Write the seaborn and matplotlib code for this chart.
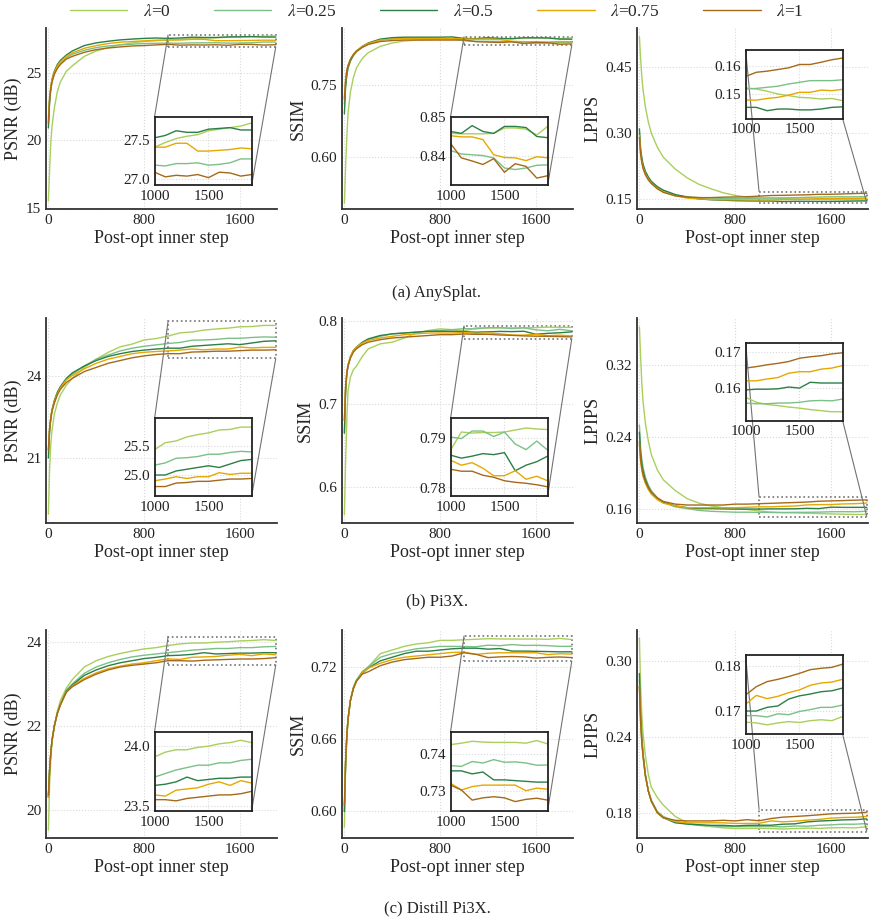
import matplotlib
matplotlib.use("Agg")
import matplotlib.pyplot as plt
import seaborn as sns
import pandas as pd
from matplotlib.ticker import MultipleLocator
from mpl_toolkits.axes_grid1.inset_locator import mark_inset

steps = [0, 10, 20, 30, 50, 75, 100, 150, 200, 300, 400, 500, 600, 700, 800, 900,
         1000, 1100, 1200, 1300, 1400, 1500, 1600, 1700, 1800, 1900]
lambdas = ["0", "0.25", "0.5", "0.75", "1"]
colors = ["#a9cf5c", "#7cc087", "#2b7f47", "#e6a800", "#a5691a"]

# rows: lambda = 0, 0.25, 0.5, 0.75, 1
anysplat_psnr = [
    [15.5, 17.8, 19.8, 21.0, 22.4, 23.6, 24.3, 25.1, 25.5, 26.2, 26.6, 26.85, 27.05, 27.2, 27.3, 27.36, 27.41, 27.47, 27.52, 27.55, 27.57, 27.62, 27.64, 27.66, 27.68, 27.72],
    [21.2, 22.8, 23.7, 24.3, 24.9, 25.4, 25.7, 26.1, 26.35, 26.65, 26.85, 26.97, 27.05, 27.1, 27.15, 27.17, 27.18, 27.17, 27.2, 27.2, 27.21, 27.18, 27.19, 27.21, 27.26, 27.26],
    [20.9, 22.9, 23.9, 24.5, 25.1, 25.6, 25.9, 26.3, 26.6, 27.0, 27.2, 27.32, 27.42, 27.48, 27.53, 27.56, 27.53, 27.56, 27.62, 27.60, 27.60, 27.64, 27.65, 27.66, 27.63, 27.63],
    [21.6, 23.2, 24.0, 24.5, 25.0, 25.5, 25.8, 26.2, 26.45, 26.8, 27.0, 27.15, 27.25, 27.3, 27.35, 27.4, 27.41, 27.41, 27.46, 27.46, 27.36, 27.36, 27.37, 27.38, 27.40, 27.39],
    [21.3, 23.0, 23.8, 24.3, 24.9, 25.3, 25.6, 26.0, 26.2, 26.5, 26.7, 26.82, 26.9, 26.97, 27.0, 27.05, 27.09, 27.03, 27.05, 27.04, 27.06, 27.02, 27.09, 27.08, 27.04, 27.06],
]
anysplat_ssim = [
    [0.505, 0.58, 0.64, 0.69, 0.735, 0.765, 0.785, 0.805, 0.817, 0.83, 0.837, 0.841, 0.843, 0.844, 0.845, 0.846, 0.8459, 0.8458, 0.8458, 0.8458, 0.8459, 0.8473, 0.8473, 0.847, 0.8455, 0.8477],
    [0.71, 0.75, 0.77, 0.785, 0.80, 0.81, 0.818, 0.828, 0.835, 0.843, 0.846, 0.847, 0.847, 0.847, 0.846, 0.845, 0.8415, 0.8406, 0.8404, 0.8402, 0.8396, 0.837, 0.8366, 0.837, 0.8377, 0.8378],
    [0.69, 0.745, 0.77, 0.785, 0.80, 0.812, 0.82, 0.83, 0.837, 0.845, 0.848, 0.849, 0.849, 0.849, 0.849, 0.8495, 0.8464, 0.8459, 0.8479, 0.8464, 0.8459, 0.8477, 0.8477, 0.8474, 0.8451, 0.8448],
    [0.725, 0.76, 0.78, 0.79, 0.803, 0.813, 0.82, 0.83, 0.836, 0.843, 0.845, 0.846, 0.846, 0.846, 0.846, 0.846, 0.8453, 0.845, 0.845, 0.8443, 0.8404, 0.8397, 0.8396, 0.8389, 0.8399, 0.8396],
    [0.72, 0.76, 0.78, 0.79, 0.803, 0.813, 0.82, 0.828, 0.834, 0.84, 0.842, 0.843, 0.843, 0.843, 0.843, 0.843, 0.8433, 0.8396, 0.8388, 0.8379, 0.8394, 0.8359, 0.8381, 0.8374, 0.8344, 0.835],
]
anysplat_lpips = [
    [0.52, 0.47, 0.43, 0.40, 0.36, 0.325, 0.30, 0.268, 0.245, 0.218, 0.198, 0.183, 0.173, 0.164, 0.158, 0.154, 0.1522, 0.1518, 0.151, 0.15, 0.1494, 0.1488, 0.1486, 0.1482, 0.1484, 0.1476],
    [0.30, 0.26, 0.24, 0.225, 0.21, 0.197, 0.188, 0.176, 0.168, 0.159, 0.155, 0.153, 0.152, 0.151, 0.151, 0.1512, 0.1518, 0.152, 0.1524, 0.1528, 0.1536, 0.1542, 0.1548, 0.1548, 0.1548, 0.1551],
    [0.31, 0.265, 0.245, 0.23, 0.213, 0.2, 0.19, 0.178, 0.17, 0.16, 0.154, 0.15, 0.148, 0.147, 0.146, 0.1455, 0.1452, 0.1452, 0.144, 0.1446, 0.1446, 0.1443, 0.1443, 0.1446, 0.1452, 0.1454],
    [0.295, 0.255, 0.235, 0.222, 0.207, 0.195, 0.186, 0.174, 0.166, 0.157, 0.152, 0.15, 0.149, 0.148, 0.148, 0.1478, 0.1478, 0.1478, 0.1484, 0.1488, 0.1496, 0.1506, 0.1506, 0.1514, 0.1512, 0.1517],
    [0.29, 0.252, 0.233, 0.22, 0.205, 0.193, 0.185, 0.173, 0.165, 0.157, 0.154, 0.153, 0.153, 0.154, 0.1545, 0.155, 0.1563, 0.1578, 0.1582, 0.1588, 0.1594, 0.1606, 0.1606, 0.1614, 0.1623, 0.1629],
]
pi3x_psnr = [
    [18.95, 20.6, 21.5, 22.0, 22.6, 23.0, 23.3, 23.65, 23.9, 24.3, 24.6, 24.85, 25.05, 25.15, 25.3, 25.35, 25.44, 25.56, 25.59, 25.66, 25.70, 25.73, 25.78, 25.79, 25.83, 25.83],
    [21.2, 22.0, 22.4, 22.7, 23.05, 23.35, 23.55, 23.85, 24.05, 24.35, 24.6, 24.75, 24.9, 25.0, 25.07, 25.12, 25.17, 25.21, 25.29, 25.30, 25.32, 25.36, 25.36, 25.39, 25.41, 25.40],
    [21.0, 22.0, 22.45, 22.75, 23.1, 23.4, 23.6, 23.9, 24.1, 24.35, 24.55, 24.7, 24.8, 24.88, 24.93, 24.97, 25.0, 25.0, 25.07, 25.10, 25.13, 25.16, 25.13, 25.19, 25.25, 25.27],
    [21.3, 22.1, 22.5, 22.75, 23.05, 23.35, 23.55, 23.85, 24.0, 24.25, 24.45, 24.6, 24.7, 24.8, 24.85, 24.88, 24.90, 24.93, 24.97, 24.94, 24.97, 24.97, 25.04, 25.01, 25.03, 25.03],
    [21.3, 22.05, 22.45, 22.7, 23.0, 23.3, 23.5, 23.75, 23.9, 24.15, 24.3, 24.45, 24.55, 24.65, 24.72, 24.77, 24.80, 24.80, 24.86, 24.87, 24.89, 24.89, 24.91, 24.93, 24.93, 24.94],
]
pi3x_ssim = [
    [0.567, 0.63, 0.68, 0.715, 0.732, 0.741, 0.745, 0.757, 0.766, 0.772, 0.774, 0.779, 0.785, 0.788, 0.79, 0.789, 0.7876, 0.7912, 0.791, 0.7911, 0.7911, 0.7912, 0.7916, 0.792, 0.7918, 0.7917],
    [0.665, 0.715, 0.735, 0.745, 0.755, 0.763, 0.767, 0.773, 0.777, 0.781, 0.784, 0.785, 0.786, 0.787, 0.788, 0.789, 0.7902, 0.7899, 0.7914, 0.7914, 0.7903, 0.7912, 0.7888, 0.7877, 0.7894, 0.7876],
    [0.665, 0.715, 0.735, 0.745, 0.756, 0.764, 0.768, 0.774, 0.778, 0.782, 0.784, 0.785, 0.786, 0.787, 0.787, 0.787, 0.7866, 0.786, 0.7864, 0.7869, 0.7867, 0.7871, 0.7835, 0.7846, 0.7853, 0.7864],
    [0.68, 0.72, 0.738, 0.747, 0.757, 0.764, 0.768, 0.773, 0.776, 0.779, 0.781, 0.783, 0.784, 0.785, 0.785, 0.785, 0.7856, 0.7846, 0.7851, 0.784, 0.7825, 0.7825, 0.7835, 0.7818, 0.7824, 0.7815],
    [0.68, 0.72, 0.737, 0.746, 0.755, 0.762, 0.766, 0.771, 0.774, 0.777, 0.779, 0.78, 0.781, 0.782, 0.783, 0.783, 0.7838, 0.7834, 0.7834, 0.7826, 0.7822, 0.7815, 0.7812, 0.781, 0.7807, 0.7803],
]
pi3x_lpips = [
    [0.362, 0.33, 0.30, 0.28, 0.255, 0.235, 0.22, 0.203, 0.192, 0.18, 0.171, 0.166, 0.163, 0.161, 0.16, 0.159, 0.1575, 0.1561, 0.1555, 0.1552, 0.1548, 0.1545, 0.1541, 0.1538, 0.1535, 0.1535],
    [0.253, 0.228, 0.215, 0.206, 0.195, 0.186, 0.18, 0.172, 0.167, 0.162, 0.16, 0.158, 0.157, 0.1565, 0.156, 0.156, 0.1559, 0.1557, 0.1557, 0.1559, 0.1559, 0.1561, 0.1565, 0.1566, 0.1565, 0.157],
    [0.245, 0.222, 0.21, 0.202, 0.192, 0.184, 0.178, 0.171, 0.167, 0.163, 0.161, 0.16, 0.16, 0.1597, 0.1595, 0.1595, 0.1595, 0.1597, 0.1597, 0.1598, 0.1603, 0.16, 0.1616, 0.1614, 0.1614, 0.1614],
    [0.232, 0.213, 0.203, 0.196, 0.188, 0.181, 0.176, 0.17, 0.166, 0.163, 0.161, 0.161, 0.161, 0.161, 0.161, 0.1615, 0.162, 0.162, 0.1625, 0.1629, 0.1641, 0.1645, 0.1645, 0.1652, 0.1655, 0.1662],
    [0.235, 0.215, 0.205, 0.198, 0.19, 0.183, 0.178, 0.172, 0.168, 0.165, 0.164, 0.164, 0.164, 0.164, 0.165, 0.165, 0.1655, 0.1659, 0.1664, 0.1668, 0.1673, 0.1682, 0.1686, 0.1689, 0.1694, 0.1697],
]
distill_psnr = [
    [19.52, 20.6, 21.2, 21.6, 22.0, 22.35, 22.6, 22.9, 23.1, 23.4, 23.55, 23.65, 23.72, 23.78, 23.83, 23.86, 23.91, 23.95, 23.97, 23.97, 23.99, 24.0, 24.02, 24.03, 24.05, 24.03],
    [20.3, 20.95, 21.35, 21.65, 22.0, 22.3, 22.5, 22.85, 23.0, 23.25, 23.4, 23.5, 23.58, 23.64, 23.68, 23.71, 23.74, 23.77, 23.80, 23.82, 23.84, 23.84, 23.86, 23.86, 23.88, 23.89],
    [20.3, 20.95, 21.35, 21.65, 22.0, 22.3, 22.5, 22.82, 22.97, 23.2, 23.33, 23.43, 23.5, 23.55, 23.6, 23.63, 23.67, 23.68, 23.70, 23.74, 23.71, 23.72, 23.73, 23.73, 23.74, 23.74],
    [20.3, 20.95, 21.35, 21.65, 22.0, 22.3, 22.5, 22.8, 22.95, 23.13, 23.26, 23.36, 23.42, 23.47, 23.5, 23.55, 23.59, 23.58, 23.63, 23.64, 23.65, 23.68, 23.70, 23.67, 23.71, 23.69],
    [20.35, 20.95, 21.35, 21.65, 22.0, 22.3, 22.5, 22.8, 22.93, 23.1, 23.23, 23.33, 23.4, 23.44, 23.47, 23.5, 23.55, 23.55, 23.54, 23.56, 23.57, 23.58, 23.59, 23.59, 23.60, 23.62],
]
distill_ssim = [
    [0.587, 0.635, 0.66, 0.675, 0.692, 0.703, 0.709, 0.716, 0.72, 0.731, 0.734, 0.737, 0.739, 0.74, 0.742, 0.742, 0.7425, 0.7429, 0.7434, 0.7432, 0.7431, 0.7431, 0.7431, 0.7429, 0.7436, 0.7427],
    [0.60, 0.64, 0.662, 0.676, 0.692, 0.703, 0.709, 0.716, 0.72, 0.728, 0.731, 0.733, 0.735, 0.736, 0.737, 0.737, 0.7369, 0.7367, 0.738, 0.7376, 0.7385, 0.7378, 0.7379, 0.7376, 0.737, 0.7371],
    [0.60, 0.64, 0.662, 0.676, 0.692, 0.702, 0.708, 0.715, 0.719, 0.725, 0.728, 0.731, 0.733, 0.733, 0.734, 0.735, 0.7355, 0.7355, 0.7347, 0.7352, 0.7331, 0.7331, 0.7329, 0.7327, 0.7325, 0.7325],
    [0.605, 0.642, 0.663, 0.677, 0.692, 0.702, 0.708, 0.715, 0.719, 0.723, 0.726, 0.728, 0.729, 0.73, 0.731, 0.732, 0.7322, 0.7304, 0.7313, 0.7317, 0.7317, 0.7317, 0.7317, 0.7302, 0.7309, 0.7306],
    [0.605, 0.642, 0.663, 0.677, 0.692, 0.702, 0.708, 0.714, 0.716, 0.721, 0.724, 0.726, 0.727, 0.728, 0.728, 0.729, 0.7317, 0.7304, 0.7277, 0.7283, 0.7286, 0.7283, 0.7273, 0.7279, 0.7282, 0.7277],
]
distill_lpips = [
    [0.318, 0.28, 0.258, 0.243, 0.225, 0.21, 0.2, 0.192, 0.186, 0.177, 0.172, 0.17, 0.169, 0.168, 0.1675, 0.1675, 0.1677, 0.1675, 0.1671, 0.1675, 0.1678, 0.1676, 0.168, 0.1682, 0.168, 0.1689],
    [0.285, 0.255, 0.238, 0.226, 0.21, 0.197, 0.19, 0.181, 0.177, 0.173, 0.171, 0.17, 0.1695, 0.169, 0.169, 0.169, 0.1691, 0.1691, 0.1688, 0.1695, 0.1693, 0.17, 0.1704, 0.1709, 0.1709, 0.1714],
    [0.29, 0.258, 0.24, 0.227, 0.21, 0.197, 0.189, 0.18, 0.176, 0.172, 0.171, 0.1705, 0.17, 0.17, 0.1695, 0.17, 0.1701, 0.1701, 0.1709, 0.1712, 0.1727, 0.1734, 0.1738, 0.1743, 0.1745, 0.1751],
    [0.28, 0.252, 0.236, 0.225, 0.209, 0.197, 0.189, 0.18, 0.176, 0.173, 0.172, 0.172, 0.172, 0.172, 0.1715, 0.1715, 0.1716, 0.1735, 0.1728, 0.1733, 0.1741, 0.1747, 0.1757, 0.1762, 0.1764, 0.177],
    [0.28, 0.252, 0.236, 0.225, 0.209, 0.197, 0.189, 0.18, 0.176, 0.174, 0.1735, 0.1735, 0.1735, 0.174, 0.1735, 0.1745, 0.1736, 0.1754, 0.1765, 0.177, 0.1776, 0.1783, 0.1791, 0.1794, 0.1796, 0.1803],
]

captions = ["(a) AnySplat.", "(b) Pi3X.", "(c) Distill Pi3X."]
ylabels = ["PSNR (dB)", "SSIM", "LPIPS"]

# (data, main ylim, main yticks, tick fmt, inset ylim, inset yticks, inset fmt)
panels = [
    [(anysplat_psnr, (14.9, 28.3), [15, 20, 25], "{:.0f}", (26.92, 27.8), [27.0, 27.5], "{:.1f}"),
     (anysplat_ssim, (0.493, 0.868), [0.60, 0.75], "{:.2f}", (0.8325, 0.8502), [0.84, 0.85], "{:.2f}"),
     (anysplat_lpips, (0.127, 0.54), [0.15, 0.30, 0.45], "{:.2f}", (0.1412, 0.1659), [0.15, 0.16], "{:.2f}")],
    [(pi3x_psnr, (18.63, 26.1), [21, 24], "{:.0f}", (24.63, 25.98), [25.0, 25.5], "{:.1f}"),
     (pi3x_ssim, (0.557, 0.803), [0.6, 0.7, 0.8], "{:.1f}", (0.7784, 0.7939), [0.78, 0.79], "{:.2f}"),
     (pi3x_lpips, (0.144, 0.372), [0.16, 0.24, 0.32], "{:.2f}", (0.1511, 0.1725), [0.16, 0.17], "{:.2f}")],
    [(distill_psnr, (19.33, 24.28), [20, 22, 24], "{:.0f}", (23.455, 24.12), [23.5, 24.0], "{:.1f}"),
     (distill_ssim, (0.578, 0.7506), [0.60, 0.66, 0.72], "{:.2f}", (0.7248, 0.7459), [0.73, 0.74], "{:.2f}"),
     (distill_lpips, (0.160, 0.3244), [0.18, 0.24, 0.30], "{:.2f}", (0.1651, 0.1823), [0.17, 0.18], "{:.2f}")],
]

# axes boxes in pixels (top, bottom) per row; left per column
row_px = [(28, 209), (318, 523), (630, 838)]
col_px = [46, 342, 637]
ax_w_px = 231
caption_y_px = [293, 601, 908]
W, H = 875, 923


def long_frame(rows):
    recs = []
    for lam, vals in zip(lambdas, rows):
        for s, v in zip(steps, vals):
            recs.append({"step": s, "value": v, "lam": rf"$\lambda$={lam}"})
    return pd.DataFrame(recs)


def style_axis(ax, grid_color="#d9d9d9"):
    ax.grid(True, which="major", color=grid_color, linestyle=":", linewidth=0.8)
    ax.tick_params(direction="in", length=3, width=0.8, labelsize=11, colors="#222222")
    ax.set_axisbelow(True)


sns.set_theme(style="white")
plt.rcParams["font.family"] = ["Liberation Serif", "DejaVu Serif"]
plt.rcParams["mathtext.fontset"] = "stix"

fig = plt.figure(figsize=(W / 100, H / 100), dpi=100)
palette = {rf"$\lambda$={l}": c for l, c in zip(lambdas, colors)}
handles = labels = None

for r, row in enumerate(panels):
    top, bot = row_px[r]
    for c, (rows, ylim, yticks, fmt, iylim, iyticks, ifmt) in enumerate(row):
        ax = fig.add_axes([col_px[c] / W, 1 - bot / H, ax_w_px / W, (bot - top) / H])
        df = long_frame(rows)
        sns.lineplot(data=df, x="step", y="value", hue="lam", palette=palette,
                     linewidth=1.0, ax=ax, legend=(r == 0 and c == 0))
        if r == 0 and c == 0:
            handles, labels = ax.get_legend_handles_labels()
            ax.get_legend().remove()
        ax.set_xlim(-20, 1910)
        ax.set_ylim(*ylim)
        ax.set_xticks([0, 800, 1600])
        ax.xaxis.set_minor_locator(MultipleLocator(200))
        ax.set_yticks(yticks)
        ax.set_yticklabels([fmt.format(t) for t in yticks])
        style_axis(ax)
        ax.tick_params(which="minor", direction="in", length=2, width=0.6, colors="#444444")
        for side in ["top", "right"]:
            ax.spines[side].set_visible(False)
        for side in ["left", "bottom"]:
            ax.spines[side].set_color("#333333")
            ax.spines[side].set_linewidth(1.3)
        ax.set_xlabel("Post-opt inner step", fontsize=13, labelpad=2)
        ax.set_ylabel(ylabels[c], fontsize=13, labelpad=3)

        if c == 2:
            ins_box = [0.47, 0.50, 0.42, 0.38]
        else:
            ins_box = [0.47, 0.13, 0.42, 0.38]
        axins = ax.inset_axes(ins_box)
        sns.lineplot(data=df[df["step"] >= 1000], x="step", y="value", hue="lam",
                     palette=palette, linewidth=1.0, ax=axins, legend=False)
        axins.set_xlim(1000, 1900)
        axins.set_ylim(*iylim)
        axins.set_xticks([1000, 1500])
        axins.set_yticks(iyticks)
        axins.set_yticklabels([ifmt.format(t) for t in iyticks])
        axins.set_xlabel("")
        axins.set_ylabel("")
        style_axis(axins)
        axins.set_facecolor("white")
        for sp in axins.spines.values():
            sp.set_visible(True)
            sp.set_color("#222222")
            sp.set_linewidth(1.3)
        pp, p1, p2 = mark_inset(ax, axins, loc1=2, loc2=4, fc="none", ec="0.45", lw=0.8)
        pp.set_linestyle(":")
        pp.set_linewidth(1.2)

    fig.text(437 / W, 1 - caption_y_px[r] / H, captions[r], ha="center", va="center", fontsize=12)

fig.legend(handles, labels, loc="center", bbox_to_anchor=(437 / W, 1 - 12 / H), ncol=5,
           frameon=False, fontsize=12.5, handlelength=3.3, handletextpad=0.9, columnspacing=2.5)

fig.savefig("out.png", dpi=100)
